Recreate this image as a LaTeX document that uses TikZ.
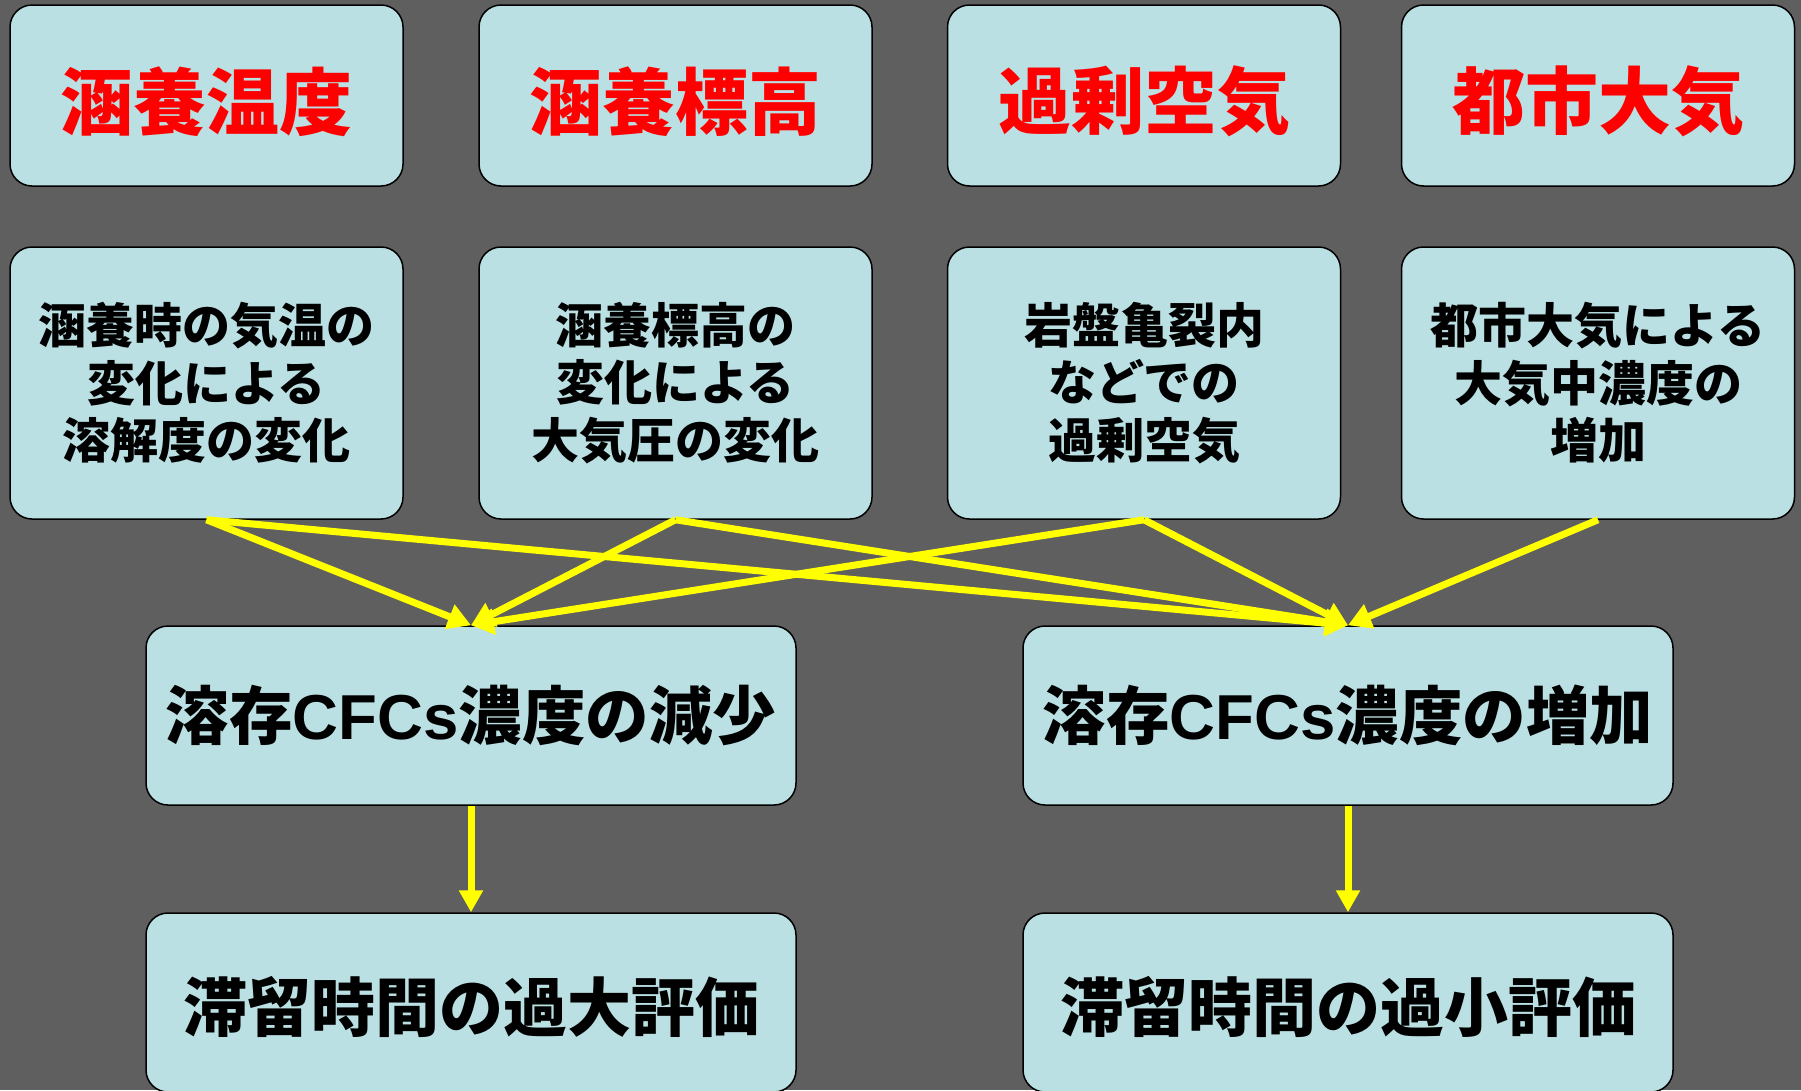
\documentclass[tikz,border=0pt]{standalone}
\usepackage{fontspec}
\newfontfamily\jp{Noto Sans CJK JP}
\newfontfamily\lat{Liberation Sans}
\usetikzlibrary{arrows.meta}
\definecolor{bgc}{RGB}{95,95,95}
\definecolor{boxc}{RGB}{186,224,227}
\definecolor{redc}{RGB}{255,0,0}
\definecolor{yelc}{RGB}{255,255,0}
\newcommand{\dn}[2]{\raisebox{-#1}[\height][\depth]{#2}}
\begin{document}
\begin{tikzpicture}[x=1pt,y=-1pt,
  box/.style={draw=black, line width=1.5pt, fill=boxc, rounded corners=22pt, inner sep=0pt, align=center, font=\jp\bfseries},
  topbox/.style={box, minimum width=393pt, minimum height=181pt, text=redc, font=\jp\bfseries\fontsize{73}{80}\selectfont},
  midbox/.style={box, minimum width=393pt, minimum height=272pt, font=\jp\bfseries\fontsize{48}{57.5}\selectfont},
  resbox/.style={box, minimum width=650pt, minimum height=179pt, font=\jp\bfseries\fontsize{63.5}{70}\selectfont},
  evalbox/.style={box, minimum width=650pt, minimum height=179pt, font=\jp\bfseries\fontsize{64}{70}\selectfont},
  conn/.style={yelc, line width=7pt, -{Triangle[length=23pt,width=25pt]}},
  vconn/.style={yelc, line width=7pt, -{Triangle[length=22pt,width=23pt]}}
]
\useasboundingbox (0,0) rectangle (1801,1090);
\clip (0,0) rectangle (1801,1090);
\fill[bgc] (0,0) rectangle (1801,1090);

\node[topbox] (t1) at (206.5,95.5) {\dn{6pt}{涵養温度}};
\node[topbox] (t2) at (675.5,95.5) {\dn{6pt}{涵養標高}};
\node[topbox] (t3) at (1144,95.5) {\dn{6pt}{過剰空気}};
\node[topbox] (t4) at (1598,95.5) {\dn{6pt}{都市大気}};

\node[midbox] (m1) at (206.5,383) {涵養時の気温の\\変化による\\溶解度の変化};
\node[midbox] (m2) at (675.5,383) {涵養標高の\\変化による\\大気圧の変化};
\node[midbox] (m3) at (1144,383) {岩盤亀裂内\\などでの\\過剰空気};
\node[midbox] (m4) at (1598,383) {都市大気による\\大気中濃度の\\増加};

\node[resbox] (r1) at (471,715.5) {溶存{\lat\bfseries CFCs}濃度の減少};
\node[resbox] (r2) at (1348,715.5) {溶存{\lat\bfseries CFCs}濃度の増加};

\node[evalbox] (e1) at (471,1002.5) {\dn{4pt}{滞留時間の過大評価}};
\node[evalbox] (e2) at (1348,1002.5) {\dn{4pt}{滞留時間の過小評価}};

\draw[conn] (m1.south) -- (r1.north);
\draw[conn] (m2.south) -- (r1.north);
\draw[conn] (m3.south) -- (r1.north);
\draw[conn] (m1.south) -- (r2.north);
\draw[conn] (m2.south) -- (r2.north);
\draw[conn] (m3.south) -- (r2.north);
\draw[conn] (m4.south) -- (r2.north);

\draw[vconn] (r1.south) -- (e1.north);
\draw[vconn] (r2.south) -- (e2.north);
\end{tikzpicture}
\end{document}
